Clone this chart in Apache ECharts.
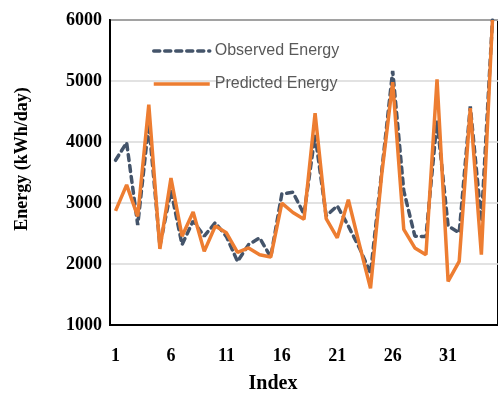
<!DOCTYPE html>
<html><head><meta charset="utf-8">
<script src="https://cdn.jsdelivr.net/npm/echarts@6/dist/echarts.min.js"></script>
<style>html,body{margin:0;padding:0;background:#fff}#c{width:498px;height:394px}</style>
</head><body><div id="c"></div>
<script>
var categories = [];
for (var i = 1; i <= 35; i++) categories.push(String(i));
var observed = [3700, 3990, 2640, 4300, 2300, 3200, 2318, 2705, 2456, 2678, 2450, 2042, 2318, 2429, 2114, 3148, 3176, 2816, 4115, 2788, 2954, 2622, 2264, 1849, 3500, 5166, 3200, 2456, 2450, 4350, 2622, 2512, 4585, 2705, 6000];
var predicted = [2871, 3297, 2780, 4612, 2247, 3408, 2456, 2854, 2207, 2622, 2512, 2191, 2264, 2153, 2114, 2998, 2844, 2733, 4474, 2745, 2430, 3053, 2318, 1600, 3451, 4980, 2567, 2264, 2153, 5027, 1716, 2043, 4557, 2153, 6000];
var yTicks = {min: 1000, max: 6000, interval: 1000};
var seriesNames = ['Observed Energy', 'Predicted Energy'];
var yTitle = 'Energy (kWh/day)';
var xTitle = 'Index';

var chart = echarts.init(document.getElementById('c'), null, {renderer: 'canvas'});
var lblFont = {fontFamily: 'Liberation Serif', fontWeight: 'bold', fontSize: 18, color: '#000'};
chart.setOption({
  animation: false,
  grid: {left: 110, top: 20, width: 392, height: 305, show: true, borderColor: '#000', borderWidth: 2, backgroundColor: 'transparent'},
  legend: {
    orient: 'vertical', left: 147, top: 38, itemWidth: 56, itemHeight: 14, itemGap: 17,
    itemStyle: {opacity: 0},
    lineStyle: {width: 3.5},
    textStyle: {fontFamily: 'Liberation Sans', fontSize: 16, color: '#595959'},
    data: seriesNames
  },
  xAxis: {
    type: 'category', data: categories, boundaryGap: true,
    axisLine: {show: true, lineStyle: {color: '#000', width: 2}},
    axisTick: {show: false},
    axisLabel: Object.assign({interval: 4, margin: 22}, lblFont),
    splitLine: {show: false}
  },
  yAxis: {
    type: 'value', min: yTicks.min, max: yTicks.max, interval: yTicks.interval,
    axisLine: {show: true, lineStyle: {color: '#000', width: 2}},
    axisTick: {show: false},
    axisLabel: Object.assign({margin: 8, formatter: function (v) { return String(v); }}, lblFont),
    splitLine: {show: true, lineStyle: {color: '#d9d9d9', width: 1.5}}
  },
  graphic: [
    {type: 'text', x: 22, y: 159, rotation: Math.PI / 2,
     style: {text: yTitle, font: 'bold 18px "Liberation Serif"', fill: '#000', textAlign: 'center', textVerticalAlign: 'middle'}},
    {type: 'text', x: 273, y: 384,
     style: {text: xTitle, font: 'bold 20px "Liberation Serif"', fill: '#000', textAlign: 'center', textVerticalAlign: 'middle'}}
  ],
  series: [
    {name: seriesNames[0], type: 'line', data: observed, symbol: 'none', smooth: false,
     lineStyle: {color: '#44546A', width: 3.5, type: [6, 5], cap: 'round'}, itemStyle: {color: '#44546A'}, z: 2},
    {name: seriesNames[1], type: 'line', data: predicted, symbol: 'none', smooth: false,
     lineStyle: {color: '#ED7D31', width: 3.5}, itemStyle: {color: '#ED7D31'}, z: 3}
  ]
});
</script></body></html>
